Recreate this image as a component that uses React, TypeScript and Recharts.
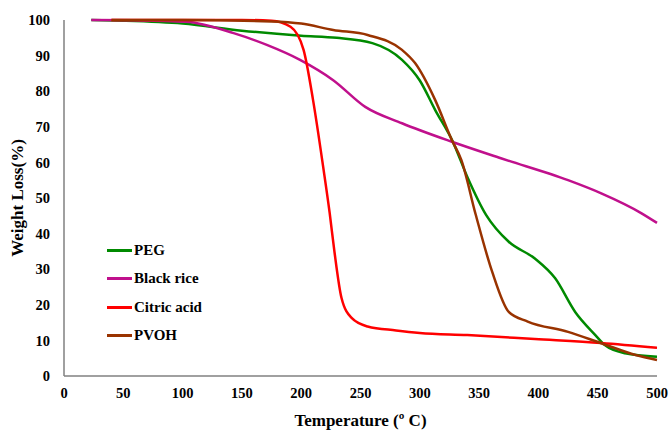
import React from 'react'
import { LineChart, Line, XAxis, YAxis, Legend } from 'recharts'

// temperature (°C) and weight (%)
const pegT = [23, 50, 100, 150, 200, 230, 260, 285, 300, 313, 328, 340, 356, 375, 397, 414, 431, 448, 456, 473, 500]
const pegW = [100, 99.8, 99, 97, 95.6, 95, 93.5, 88.8, 83, 74.7, 65.7, 56, 45.2, 37.7, 33, 27.5, 18, 11.5, 8.7, 6.4, 5.4]

const riceT = [23, 60, 103, 143, 171, 199, 227, 254, 285, 327, 369, 425, 453, 487, 500]
const riceW = [100, 99.9, 99.5, 96.3, 93, 88.8, 83.1, 75.6, 71, 65.8, 61.1, 55, 51.3, 45.7, 43]

const citricT = [40, 100, 150, 175, 191, 202, 210, 218.5, 224, 228, 234, 242.5, 256, 280, 300, 340, 397, 453, 500]
const citricW = [100, 100, 100, 99.8, 98.1, 91.6, 77.5, 58.8, 45.8, 35, 21.9, 16.3, 13.9, 12.8, 12.1, 11.5, 10.4, 9.3, 7.9]

const pvohT = [40, 100, 175, 200, 227, 256, 285, 296, 313, 327, 335, 347, 361, 375, 391, 425, 453, 482, 500]
const pvohW = [100, 100, 99.6, 99, 97.2, 95.8, 91.6, 87.9, 77.5, 66.3, 60.7, 45.5, 29.3, 18, 15.3, 12.4, 9.2, 5.9, 4.5]

const xTicks = [0, 50, 100, 150, 200, 250, 300, 350, 400, 450, 500]
const yTicks = [0, 10, 20, 30, 40, 50, 60, 70, 80, 90, 100]

const toRows = (ts: number[], ws: number[]) => ts.map((t, i) => ({ t, w: ws[i] }))

const series = [
  { name: 'PEG', color: '#008a00', data: toRows(pegT, pegW) },
  { name: 'Black rice', color: '#c0108c', data: toRows(riceT, riceW) },
  { name: 'Citric acid', color: '#ff0000', data: toRows(citricT, citricW) },
  { name: 'PVOH', color: '#993300', data: toRows(pvohT, pvohW) },
]

const font = "'Liberation Serif', 'Times New Roman', serif"

const LegendBox = () => (
  <div style={{ fontFamily: font, fontWeight: 'bold', fontSize: 15, color: '#000' }}>
    {series.map(s => (
      <div key={s.name} style={{ display: 'flex', alignItems: 'center', height: 28.5 }}>
        <span style={{ display: 'inline-block', width: 25, height: 3, background: s.color, marginRight: 2 }} />
        <span>{s.name}</span>
      </div>
    ))}
  </div>
)

const App: React.FC = () => {
  const tick = { fontFamily: font, fontWeight: 'bold' as const, fontSize: 14.5, fill: '#000' }
  return (
    <div style={{ position: 'absolute', left: 0, top: 0, background: '#fff' }}>
      <LineChart width={670} height={431} margin={{ top: 20, right: 13, bottom: 0, left: 0 }}>
        <XAxis
          type="number"
          dataKey="t"
          domain={[0, 500]}
          ticks={xTicks}
          tick={tick}
          tickLine={false}
          tickMargin={6}
          height={55}
          axisLine={{ stroke: '#808080', strokeWidth: 1.5 }}
          allowDuplicatedCategory={false}
          label={{
            value: 'Temperature (º C)',
            position: 'insideBottom',
            offset: 5,
            style: { fontFamily: font, fontWeight: 'bold', fontSize: 17, fill: '#000' },
          }}
        />
        <YAxis
          type="number"
          domain={[0, 100]}
          ticks={yTicks}
          tick={tick}
          tickLine={false}
          tickMargin={8}
          width={64}
          axisLine={{ stroke: '#808080', strokeWidth: 1.5 }}
          label={{
            value: 'Weight Loss(%)',
            angle: -90,
            position: 'insideLeft',
            offset: 17,
            style: { fontFamily: font, fontWeight: 'bold', fontSize: 17, fill: '#000', textAnchor: 'middle' },
          }}
        />
        <Legend
          layout="vertical"
          align="center"
          verticalAlign="middle"
          content={<LegendBox />}
          wrapperStyle={{ left: 107, top: 236, width: 120 }}
        />
        {series.map(s => (
          <Line
            key={s.name}
            data={s.data}
            dataKey="w"
            name={s.name}
            type="monotone"
            stroke={s.color}
            strokeWidth={2.5}
            dot={false}
            activeDot={false}
            isAnimationActive={false}
          />
        ))}
      </LineChart>
    </div>
  )
}

export default App
